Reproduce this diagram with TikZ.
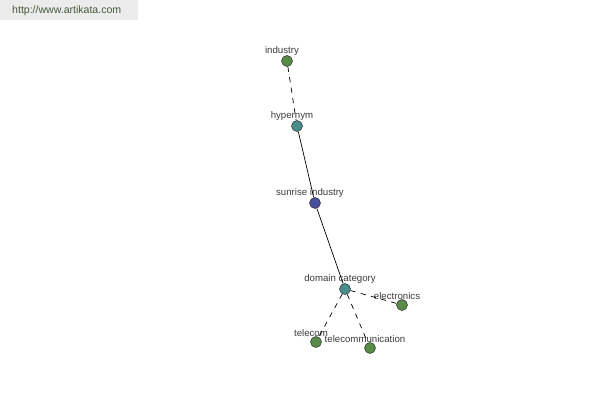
\documentclass[tikz,border=0pt]{standalone}
\usepackage{fontspec}
\setmainfont{Liberation Sans}
\usepackage{color}
\definecolor{leafgreen}{RGB}{88,140,72}
\definecolor{hubteal}{RGB}{72,140,140}
\definecolor{rootblue}{RGB}{72,78,160}
\definecolor{bannergray}{RGB}{236,236,236}
\definecolor{bannertext}{RGB}{72,88,60}
\definecolor{labelgray}{RGB}{60,60,60}

\tikzset{
  word/.style={circle, draw=black!80, line width=0.3pt, minimum size=0.22cm, inner sep=0pt,
    label={[labelgray, font=\fontsize{5.5}{6}\selectfont, inner sep=0.5pt, xshift=-0.1cm, label distance=-0.03cm]above:#1}},
  link/.style={line width=0.4pt, black},
  weak/.style={line width=0.4pt, black, dash pattern=on 3pt off 3pt}
}

\begin{document}
\begin{tikzpicture}
    \useasboundingbox (0,0) rectangle (12,8);
    \fill[bannergray] (0,7.6) rectangle (2.76,8);
    \node[bannertext, font=\fontsize{6}{7}\selectfont, anchor=west] (site) at (0.12,7.79) {http://www.artikata.com};

    \node[word=industry, fill=leafgreen] (industry) at (5.74,6.78) {};
    \node[word=hypernym, fill=hubteal] (hypernym) at (5.94,5.48) {};
    \node[word=sunrise industry, fill=rootblue] (sunrise) at (6.30,3.94) {};
    \node[word=domain category, fill=hubteal] (domain) at (6.90,2.22) {};
    \node[word=electronics, fill=leafgreen] (electronics) at (8.04,1.90) {};
    \node[word=telecom, fill=leafgreen] (telecom) at (6.32,1.16) {};
    \node[word=telecommunication, fill=leafgreen] (telecomm) at (7.40,1.04) {};

    \draw[weak] (industry) -- (hypernym);
    \draw[link] (hypernym) -- (sunrise);
    \draw[link] (sunrise) -- (domain);
    \draw[weak] (domain) -- (electronics);
    \draw[weak] (domain) -- (telecom);
    \draw[weak] (domain) -- (telecomm);
\end{tikzpicture}
\end{document}
